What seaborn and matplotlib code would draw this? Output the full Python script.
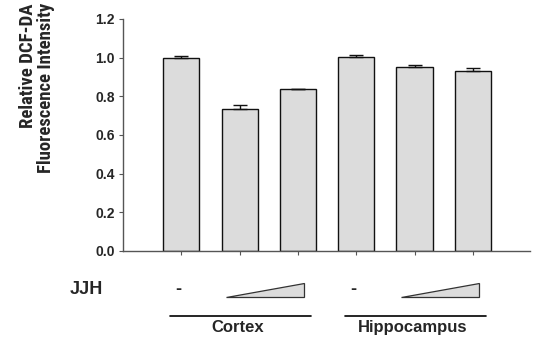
import numpy as np
import matplotlib
matplotlib.use("Agg")
import matplotlib.pyplot as plt
import seaborn as sns
from matplotlib.patches import Polygon
from matplotlib.font_manager import fontManager

conditions = ["Cortex -", "Cortex low", "Cortex high", "Hippo -", "Hippo low", "Hippo high"]
values = [1.0, 0.735, 0.836, 1.003, 0.951, 0.929]
errors = [0.008, 0.018, 0.004, 0.013, 0.013, 0.016]
groups = ["Cortex", "Hippocampus"]
yticks = [0.0, 0.2, 0.4, 0.6, 0.8, 1.0, 1.2]

sns.set_style("ticks")
names = {f.name for f in fontManager.ttflist}
narrow = "Liberation Sans"
for cand in ["Liberation Sans Narrow", "Roboto Condensed", "Open Sans Condensed", "DejaVu Sans Condensed"]:
    if cand in names:
        narrow = cand
        break
plt.rcParams["font.family"] = ["Liberation Sans", "DejaVu Sans"]

fig = plt.figure(figsize=(5.33, 3.38), dpi=100)
ax = fig.add_axes([123 / 533, 87 / 338, 407 / 533, 232 / 338])

sns.barplot(x=conditions, y=values, ax=ax, color="#dcdcdc", edgecolor="#111111",
            linewidth=1.0, width=0.62, saturation=1)
xs = np.arange(len(conditions))
ax.errorbar(xs, values, yerr=[np.zeros(len(errors)), errors], fmt="none",
            ecolor="#111111", elinewidth=1.0, capsize=5, capthick=1.0)

ax.set_xlim(-1, 5.98)
ax.set_ylim(0, 1.2)
ax.set_yticks(yticks)
ax.set_yticklabels([f"{t:.1f}" for t in yticks], fontsize=10, fontweight="bold")
ax.set_xticks(xs)
ax.set_xticklabels([])
ax.tick_params(axis="both", direction="out", length=3, width=0.8, color="#555555", pad=3)
ax.set_xlabel("")
ax.set_ylabel("")
for s in ["top", "right"]:
    ax.spines[s].set_visible(False)
for s in ["left", "bottom"]:
    ax.spines[s].set_color("#555555")
    ax.spines[s].set_linewidth(1.0)

fig.text(37 / 533, 1 - 3 / 338, "Relative DCF-DA\nFluorescence Intensity", rotation=90,
         ha="center", va="top", multialignment="right", fontsize=13.5,
         fontweight="bold", family=[narrow, "DejaVu Sans"], linespacing=0.95)

tr = ax.get_xaxis_transform()
ax.text(-1.63, -0.165, "JJH", transform=tr, ha="center", va="center",
        fontsize=13, fontweight="bold", clip_on=False)
for g, start in enumerate([0, 3]):
    ax.text(start - 0.05, -0.165, "-", transform=tr, ha="center", va="center",
            fontsize=13, fontweight="bold", clip_on=False)
    tri = Polygon([[start + 0.77, -0.198], [start + 2.1, -0.198], [start + 2.1, -0.137]],
                  closed=True, transform=tr, facecolor="#dcdcdc", edgecolor="#333333",
                  linewidth=0.9, clip_on=False)
    ax.add_patch(tri)
    ax.plot([start - 0.19, start + 2.22], [-0.28, -0.28], transform=tr, color="black",
            linewidth=1.2, clip_on=False)
    ax.text(start + 0.97, -0.33, groups[g], transform=tr, ha="center", va="center",
            fontsize=12, fontweight="bold", clip_on=False)

fig.savefig("out.png", dpi=100)
